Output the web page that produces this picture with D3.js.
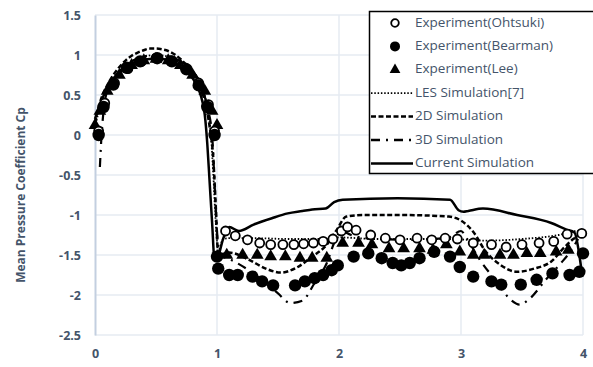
<!DOCTYPE html>
<html>
<head>
<meta charset="utf-8">
<script src="https://cdn.jsdelivr.net/npm/d3@7"></script>
<style>
  html, body { margin: 0; padding: 0; background: #fff; }
  svg { display: block; }
</style>
</head>
<body>
<svg id="chart" width="593" height="367"></svg>
<script>
// Mean pressure coefficient around the square cylinder perimeter (x = position along faces)
const xTicks = [0, 1, 2, 3, 4];
const yTicks = [-2.5, -2, -1.5, -1, -0.5, 0, 0.5, 1, 1.5];

const ohtsuki = [
  [0.03,0.05],[0.08,0.4],[0.16,0.65],[0.27,0.83],[0.38,0.92],[0.5,0.96],[0.62,0.93],[0.74,0.84],[0.85,0.65],[0.93,0.38],[0.98,0.05],
  [1.07,-1.2],[1.15,-1.26],[1.25,-1.31],[1.35,-1.35],[1.44,-1.37],[1.54,-1.37],[1.63,-1.37],[1.71,-1.36],[1.79,-1.35],[1.87,-1.33],[1.95,-1.3],
  [2.02,-1.2],[2.07,-1.15],[2.14,-1.19],[2.26,-1.25],[2.38,-1.29],[2.5,-1.31],[2.64,-1.29],[2.76,-1.31],[2.87,-1.29],[2.97,-1.3],
  [3.1,-1.35],[3.25,-1.37],[3.37,-1.4],[3.5,-1.37],[3.64,-1.35],[3.76,-1.33],[3.87,-1.24],[3.99,-1.23]
];
const bearman = [
  [0.03,0.0],[0.07,0.35],[0.15,0.63],[0.26,0.84],[0.37,0.92],[0.51,0.96],[0.63,0.92],[0.75,0.82],[0.85,0.62],[0.92,0.35],[0.98,0.0],
  [1.0,-1.52],[1.01,-1.67],[1.1,-1.75],[1.17,-1.75],[1.29,-1.77],[1.37,-1.83],[1.46,-1.88],[1.64,-1.88],[1.72,-1.83],[1.8,-1.79],[1.87,-1.75],[1.94,-1.69],
  [1.99,-1.63],[2.12,-1.52],[2.24,-1.48],[2.35,-1.54],[2.44,-1.6],[2.51,-1.63],[2.58,-1.6],[2.66,-1.54],[2.78,-1.46],[2.91,-1.52],[2.99,-1.65],
  [3.1,-1.77],[3.25,-1.83],[3.33,-1.87],[3.49,-1.87],[3.62,-1.81],[3.75,-1.73],[3.89,-1.75],[3.97,-1.71],[4.0,-1.48]
];
const lee = [
  [0.0,0.12],[0.04,0.3],[0.1,0.55],[0.2,0.75],[0.3,0.87],[0.4,0.93],[0.5,0.95],[0.6,0.93],[0.7,0.87],[0.8,0.75],[0.9,0.55],[0.96,0.3],[1.0,0.12],
  [1.08,-1.5],[1.21,-1.5],[1.33,-1.5],[1.44,-1.52],[1.56,-1.52],[1.68,-1.54],[1.78,-1.54],[1.9,-1.54],
  [2.03,-1.35],[2.16,-1.35],[2.27,-1.37],[2.41,-1.42],[2.53,-1.42],[2.66,-1.42],[2.77,-1.44],[2.88,-1.37],
  [2.99,-1.46],[3.1,-1.5],[3.19,-1.5],[3.32,-1.5],[3.43,-1.5],[3.54,-1.48],[3.65,-1.48],[3.78,-1.46],[3.88,-1.44]
];
const lesSim = [
  [0,0.1],[0.05,0.4],[0.1,0.58],[0.2,0.8],[0.3,0.92],[0.4,0.98],[0.5,1.0],[0.6,0.98],[0.7,0.92],[0.8,0.8],[0.87,0.62],[0.92,0.35],[0.95,0.0],
  [0.97,-0.5],[0.99,-1.1],[1.01,-1.45],[1.05,-1.3],[1.1,-1.29],[1.3,-1.29],[1.6,-1.3],[1.9,-1.3],[2.0,-1.28],[2.3,-1.3],[2.6,-1.3],[2.9,-1.3],
  [3.2,-1.32],[3.5,-1.3],[3.8,-1.25],[3.95,-1.2],[4.0,-1.2]
];
const sim2d = [
  [0,0.15],[0.05,0.45],[0.1,0.62],[0.15,0.75],[0.2,0.85],[0.25,0.93],[0.3,0.99],[0.35,1.03],[0.4,1.06],[0.45,1.08],[0.5,1.08],[0.55,1.07],
  [0.6,1.05],[0.65,1.01],[0.7,0.95],[0.75,0.87],[0.8,0.77],[0.85,0.63],[0.9,0.42],[0.94,0.1],[0.97,-0.3],[0.99,-0.9],[1.01,-1.5],
  [1.1,-1.47],[1.25,-1.55],[1.4,-1.67],[1.52,-1.72],[1.65,-1.66],[1.78,-1.52],[1.9,-1.37],[1.98,-1.19],[2.06,-1.02],[2.2,-1.0],[2.5,-1.0],
  [2.9,-1.02],[3.0,-1.07],[3.1,-1.21],[3.2,-1.45],[3.32,-1.62],[3.46,-1.71],[3.6,-1.67],[3.74,-1.58],[3.85,-1.4],[3.92,-1.3],[3.97,-1.25]
];
const sim3d = [
  [0.04,-0.4],[0.05,-0.1],[0.07,0.3],[0.1,0.55],[0.15,0.7],[0.2,0.8],[0.3,0.92],[0.4,0.98],[0.5,1.0],[0.6,0.98],[0.7,0.92],[0.8,0.8],
  [0.87,0.62],[0.92,0.35],[0.96,0.0],[0.98,-0.6],[1.0,-1.2],[1.02,-1.5],[1.1,-1.55],[1.25,-1.68],[1.4,-1.85],[1.5,-1.98],[1.6,-2.1],
  [1.7,-2.07],[1.8,-1.85],[1.9,-1.6],[1.96,-1.35],[2.02,-1.2],[2.1,-1.25],[2.3,-1.3],[2.6,-1.31],[2.9,-1.28],[3.0,-1.2],[3.05,-1.3],
  [3.15,-1.55],[3.3,-1.85],[3.4,-2.05],[3.48,-2.12],[3.56,-2.05],[3.7,-1.8],[3.82,-1.6],[3.9,-1.45],[3.96,-1.3]
];
const current = [
  [0,0.2],[0.05,0.42],[0.1,0.58],[0.15,0.7],[0.2,0.78],[0.25,0.85],[0.3,0.89],[0.35,0.92],[0.4,0.94],[0.45,0.95],[0.5,0.95],[0.55,0.95],
  [0.6,0.93],[0.65,0.9],[0.7,0.86],[0.75,0.8],[0.8,0.71],[0.85,0.57],[0.88,0.42],[0.9,0.25],[0.92,-0.1],[0.94,-0.6],[0.96,-1.1],[0.98,-1.56],
  [1.0,-1.55],[1.05,-1.3],[1.1,-1.15],[1.18,-1.2],[1.3,-1.12],[1.45,-1.04],[1.58,-0.98],[1.7,-0.95],[1.78,-0.93],[1.89,-0.92],[1.96,-0.84],
  [2.03,-0.81],[2.48,-0.79],[2.91,-0.81],[2.98,-0.94],[3.02,-0.96],[3.06,-0.95],[3.18,-0.92],[3.46,-1.0],[3.74,-1.1],[3.86,-1.18],
  [3.93,-1.22],[3.97,-1.5],[3.99,-1.72]
];

const legendItems = [
  { label: "Experiment(Ohtsuki)", kind: "open" },
  { label: "Experiment(Bearman)", kind: "filled" },
  { label: "Experiment(Lee)", kind: "tri" },
  { label: "LES Simulation[7]", kind: "line", dash: "1.5,1.8", w: 1.8 },
  { label: "2D Simulation", kind: "line", dash: "5,2.5", w: 2.5 },
  { label: "3D Simulation", kind: "line", dash: "9,6,2,6", w: 2.5 },
  { label: "Current Simulation", kind: "line", dash: null, w: 2.5 }
];

const svg = d3.select("#chart");
const textColor = "#44546a";
const x = d3.scaleLinear().domain([0, 4]).range([95, 583]);
const y = d3.scaleLinear().domain([-2.5, 1.5]).range([335, 15]);

// gridlines
const grid = svg.append("g");
grid.selectAll("line.h").data(yTicks).join("line")
  .attr("x1", x(0)).attr("x2", x(4))
  .attr("y1", d => y(d)).attr("y2", d => y(d))
  .attr("stroke", "#e6ebf2").attr("stroke-width", 1.5);
grid.selectAll("line.v").data(xTicks.slice(1)).join("line")
  .attr("x1", d => x(d)).attr("x2", d => x(d))
  .attr("y1", y(1.5)).attr("y2", y(-2.5))
  .attr("stroke", "#e6ebf2").attr("stroke-width", 1.5);

// left value axis
const yAxis = svg.append("g").attr("transform", `translate(${x(0)},0)`)
  .call(d3.axisLeft(y).tickValues(yTicks).tickSize(0).tickPadding(14).tickFormat(d => String(d)));
yAxis.select(".domain").attr("stroke", "#c3cfe0").attr("stroke-width", 2);
yAxis.selectAll("text").attr("fill", textColor).attr("font-family", "'Open Sans', sans-serif")
  .attr("font-size", 12.5).attr("font-weight", "bold");

const xAxis = svg.append("g").attr("transform", `translate(0,${y(-2.5)})`)
  .call(d3.axisBottom(x).tickValues(xTicks).tickSize(0).tickPadding(14).tickFormat(d3.format("d")));
xAxis.select(".domain").remove();
xAxis.selectAll("text").attr("fill", textColor).attr("font-family", "'Open Sans', sans-serif")
  .attr("font-size", 12.5).attr("font-weight", "bold");

svg.append("text")
  .attr("transform", `translate(22,${(y(1.5) + y(-2.5)) / 2 + 20}) rotate(-90)`)
  .attr("text-anchor", "middle").attr("dominant-baseline", "middle")
  .attr("fill", textColor).attr("font-family", "'Open Sans', sans-serif")
  .attr("font-size", 12).attr("font-weight", "bold")
  .text("Mean Pressure Coefficient Cp");

// simulation curves
const line = d3.line().x(d => x(d[0])).y(d => y(d[1])).curve(d3.curveMonotoneX);
const curves = [
  { data: lesSim, dash: "1.5,1.8", w: 1.8 },
  { data: sim3d, dash: "9,6,2,6", w: 2.2 },
  { data: sim2d, dash: "5,2.5", w: 2.5 },
  { data: current, dash: null, w: 2.5 }
];
svg.append("g").selectAll("path").data(curves).join("path")
  .attr("d", d => line(d.data))
  .attr("fill", "none").attr("stroke", "#000")
  .attr("stroke-width", d => d.w)
  .attr("stroke-dasharray", d => d.dash);

// experimental points
const tri = d3.symbol().type(d3.symbolTriangle).size(70);
svg.append("g").selectAll("path").data(lee).join("path")
  .attr("d", tri).attr("transform", d => `translate(${x(d[0])},${y(d[1])})`).attr("fill", "#000");
svg.append("g").selectAll("circle").data(ohtsuki).join("circle")
  .attr("cx", d => x(d[0])).attr("cy", d => y(d[1])).attr("r", 4.5)
  .attr("fill", "#fff").attr("stroke", "#000").attr("stroke-width", 1.8);
svg.append("g").selectAll("circle").data(bearman).join("circle")
  .attr("cx", d => x(d[0])).attr("cy", d => y(d[1])).attr("r", 6.2)
  .attr("fill", "#000");

// legend
const lg = svg.append("g");
lg.append("rect").attr("x", 369.5).attr("y", 11.5).attr("width", 240).attr("height", 162)
  .attr("fill", "#fff").attr("stroke", "#000").attr("stroke-width", 1.5);
const rows = lg.selectAll("g.row").data(legendItems).join("g")
  .attr("transform", (d, i) => `translate(0,${23 + i * 23.4})`);
rows.each(function (d) {
  const g = d3.select(this);
  if (d.kind === "open") {
    g.append("circle").attr("cx", 395).attr("cy", 0).attr("r", 3.8)
      .attr("fill", "#fff").attr("stroke", "#000").attr("stroke-width", 1.8);
  } else if (d.kind === "filled") {
    g.append("circle").attr("cx", 395).attr("cy", 0).attr("r", 5).attr("fill", "#000");
  } else if (d.kind === "tri") {
    g.append("path").attr("d", d3.symbol().type(d3.symbolTriangle).size(50))
      .attr("transform", "translate(395,0)").attr("fill", "#000");
  } else {
    g.append("line").attr("x1", 371).attr("x2", 413).attr("y1", 0).attr("y2", 0)
      .attr("stroke", "#000").attr("stroke-width", d.w).attr("stroke-dasharray", d.dash);
  }
  g.append("text").attr("x", 415).attr("y", 0).attr("dominant-baseline", "middle")
    .attr("fill", textColor).attr("font-family", "'Open Sans', sans-serif").attr("font-size", 13.5)
    .text(d.label);
});
</script>
</body>
</html>
